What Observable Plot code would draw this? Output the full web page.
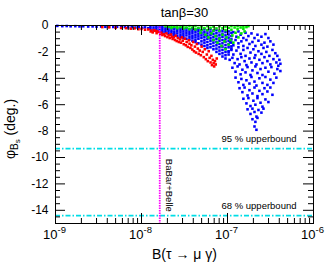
<!DOCTYPE html>
<html><head><meta charset="utf-8">
<script src="https://cdn.jsdelivr.net/npm/d3@7"></script>
<script src="https://cdn.jsdelivr.net/npm/@observablehq/plot@0.6"></script>
<style>body{margin:0;background:#fff} svg{display:block}</style>
</head><body><div id="chart"></div>
<script>
const title = "tanβ=30";
const xLabel = "B(τ → μ γ)";
const xMajor = [1e-9, 1e-8, 1e-7, 1e-6];
const xExp = ["-9", "-8", "-7", "-6"];
const yMajor = [0, -2, -4, -6, -8, -10, -12, -14];
const bound95 = -9.33, bound68 = -14.4;
const bound95Label = "95 % upperbound", bound68Label = "68 % upperbound";
const babarBelle = 1.63e-8;
const babarBelleLabel = "BaBar+Belle";

// blue: thin band along the top at small B
const blueBand = [[1.05e-9,-0.03],[1.2e-9,-0.05],[1.35e-9,-0.04],[1.5e-9,-0.06],[1.7e-9,-0.05],[1.9e-9,-0.07],[2.1e-9,-0.06],[2.4e-9,-0.08],[2.7e-9,-0.07],[3e-9,-0.09],[3.4e-9,-0.08],[3.8e-9,-0.1],[4.2e-9,-0.09],[4.7e-9,-0.11],[5.2e-9,-0.1],[5.8e-9,-0.12],[6.4e-9,-0.11],[7e-9,-0.14],[7.7e-9,-0.12],[8.5e-9,-0.15],[9.3e-9,-0.13],[1.02e-8,-0.17],[1.1e-8,-0.14],[1.2e-8,-0.2]];
// blue: dense region, columns of [B, phi values]
const blueCols = [
 [1.27e-8,[-0.1,-0.25]],[1.38e-8,[-0.15,-0.32]],[1.49e-8,[-0.08,-0.22,-0.38]],[1.62e-8,[-0.12,-0.3,-0.45]],
 [1.75e-8,[-0.1,-0.25,-0.42,-0.55]],[1.9e-8,[-0.2,-0.35,-0.5]],[2.06e-8,[-0.12,-0.3,-0.45,-0.62]],
 [2.23e-8,[-0.22,-0.4,-0.55,-0.7]],[2.41e-8,[-0.15,-0.3,-0.5,-0.65,-0.78]],[2.61e-8,[-0.25,-0.42,-0.6,-0.8]],
 [2.84e-8,[-0.18,-0.35,-0.52,-0.7,-0.88]],[3.07e-8,[-0.28,-0.45,-0.62,-0.8,-0.95]],[3.33e-8,[-0.2,-0.38,-0.55,-0.75,-1.0]],
 [3.61e-8,[-0.3,-0.48,-0.66,-0.85,-1.05]],[3.91e-8,[-0.22,-0.4,-0.58,-0.78,-0.95,-1.15]],[4.24e-8,[-0.32,-0.5,-0.7,-0.9,-1.1,-1.25]],
 [4.59e-8,[-0.25,-0.42,-0.62,-0.82,-1.0,-1.35]],[4.98e-8,[-0.35,-0.55,-0.75,-0.95,-1.2,-1.45]],
 [5.39e-8,[-0.28,-0.48,-0.68,-0.88,-1.1,-1.3,-1.55]],[5.84e-8,[-0.38,-0.6,-0.8,-1.0,-1.25,-1.5,-1.7]],
 [6.34e-8,[-0.3,-0.52,-0.72,-0.95,-1.15,-1.4,-1.65]],[6.86e-8,[-0.42,-0.65,-0.88,-1.1,-1.3,-1.55,-1.8]],
 [7.44e-8,[-0.35,-0.58,-0.8,-1.02,-1.25,-1.5,-1.75,-2.0]],[8.06e-8,[-0.45,-0.7,-0.92,-1.15,-1.4,-1.65,-1.9,-2.15]],
 [8.74e-8,[-0.4,-0.62,-0.85,-1.1,-1.35,-1.6,-1.85,-2.1,-2.35]],[9.48e-8,[-0.5,-0.75,-1.0,-1.22,-1.48,-1.72,-2.0,-2.25,-2.5]],
 [1.03e-7,[-0.45,-0.68,-0.92,-1.15,-1.4,-1.65,-1.95,-2.2]],[1.11e-7,[-0.55,-0.8,-1.05,-1.3,-1.58,-1.85]]
];
// blue: scattered cloud at large B
const blueCloud = [
 [1.17e-7,-0.5],[1.27e-7,-0.85],[1.34e-7,-0.45],[1.42e-7,-0.7],[1.53e-7,-0.95],[1.62e-7,-0.55],[1.75e-7,-0.8],[1.9e-7,-0.6],[2.06e-7,-0.95],[2.23e-7,-0.7],[2.48e-7,-0.85],[2.76e-7,-0.65],[2.99e-7,-0.95],
 [1.08e-7,-1.25],[1.17e-7,-1.5],[1.24e-7,-1.1],[1.34e-7,-1.35],[1.45e-7,-1.2],[1.53e-7,-1.55],[1.66e-7,-1.1],[1.8e-7,-1.4],[1.95e-7,-1.25],[2.11e-7,-1.55],[2.29e-7,-1.15],[2.48e-7,-1.45],[2.69e-7,-1.3],[2.91e-7,-1.6],[3.15e-7,-1.2],[3.42e-7,-1.45],
 [1.03e-7,-2.0],[1.11e-7,-1.75],[1.17e-7,-2.2],[1.27e-7,-1.9],[1.34e-7,-1.65],[1.42e-7,-2.15],[1.53e-7,-1.85],[1.62e-7,-2.3],[1.71e-7,-1.7],[1.85e-7,-2.05],[2.0e-7,-1.8],[2.11e-7,-2.25],[2.29e-7,-1.95],[2.48e-7,-2.15],[2.62e-7,-1.7],[2.83e-7,-2.0],[3.07e-7,-2.3],[3.33e-7,-1.85],[3.6e-7,-2.1],[3.8e-7,-2.3],
 [1.06e-7,-2.6],[1.14e-7,-2.45],[1.21e-7,-2.85],[1.31e-7,-2.55],[1.38e-7,-2.95],[1.45e-7,-2.4],[1.58e-7,-2.7],[1.66e-7,-3.0],[1.8e-7,-2.5],[1.9e-7,-2.8],[2.06e-7,-2.45],[2.17e-7,-2.95],[2.35e-7,-2.6],[2.55e-7,-2.85],[2.69e-7,-2.4],[2.91e-7,-2.7],[3.15e-7,-2.95],[3.42e-7,-2.55],[3.7e-7,-2.8],[4.01e-7,-2.6],[4.12e-7,-2.9],
 [1.14e-7,-3.2],[1.24e-7,-3.5],[1.31e-7,-3.1],[1.42e-7,-3.7],[1.49e-7,-3.35],[1.62e-7,-3.55],[1.71e-7,-3.15],[1.85e-7,-3.75],[1.95e-7,-3.4],[2.11e-7,-3.1],[2.23e-7,-3.6],[2.42e-7,-3.3],[2.55e-7,-3.75],[2.76e-7,-3.2],[2.99e-7,-3.5],[3.24e-7,-3.15],[3.51e-7,-3.65],[3.8e-7,-3.3],[4.12e-7,-3.45],[3.9e-7,-3.05],
 [1.24e-7,-3.95],[1.34e-7,-4.3],[1.45e-7,-4.05],[1.53e-7,-4.5],[1.66e-7,-4.15],[1.8e-7,-4.4],[1.9e-7,-3.9],[2.06e-7,-4.25],[2.17e-7,-4.55],[2.35e-7,-4.0],[2.55e-7,-4.35],[2.76e-7,-3.9],[2.91e-7,-4.5],[3.15e-7,-4.1],[3.42e-7,-4.35],[3.7e-7,-3.95],
 [1.38e-7,-4.75],[1.49e-7,-5.05],[1.58e-7,-4.7],[1.71e-7,-5.3],[1.8e-7,-4.9],[1.95e-7,-5.15],[2.06e-7,-4.7],[2.23e-7,-5.35],[2.35e-7,-4.95],[2.55e-7,-5.2],[2.69e-7,-4.75],[2.91e-7,-5.0],[3.15e-7,-4.7],[3.33e-7,-5.25],
 [1.53e-7,-5.55],[1.66e-7,-5.9],[1.75e-7,-5.5],[1.85e-7,-6.1],[2.0e-7,-5.7],[2.11e-7,-6.0],[2.23e-7,-5.5],[2.42e-7,-5.85],[2.55e-7,-6.15],[2.76e-7,-5.6],[2.99e-7,-5.8],
 [1.71e-7,-6.35],[1.85e-7,-6.7],[1.95e-7,-6.3],[2.06e-7,-6.55],[2.17e-7,-6.9],[2.29e-7,-6.4],[2.48e-7,-6.6],[2.62e-7,-6.3],
 [1.95e-7,-7.1],[2.11e-7,-7.3],[2.23e-7,-7.0],[2.06e-7,-7.65],[2.17e-7,-7.9]
];
const red = [
 [3.5e-9,-0.12],[4.2e-9,-0.14],[5e-9,-0.17],[5.8e-9,-0.19],[6.6e-9,-0.2],[7.5e-9,-0.24],[8.3e-9,-0.22],[9.2e-9,-0.28],[1e-8,-0.26],[1.1e-8,-0.32],[1.2e-8,-0.3],[1.3e-8,-0.38],[1.4e-8,-0.35],[1.5e-8,-0.42],
 [1.28e-8,-0.45],[1.35e-8,-0.52],[1.42e-8,-0.4],[1.5e-8,-0.58],[1.58e-8,-0.48],[1.65e-8,-0.62],
 [1.7e-8,-0.55],[1.75e-8,-0.72],[1.82e-8,-0.66],[1.88e-8,-0.8],[1.95e-8,-0.6],[2.0e-8,-0.88],[2.07e-8,-0.75],[2.13e-8,-0.95],
 [2.2e-8,-0.68],[2.25e-8,-0.85],[2.3e-8,-1.02],[2.38e-8,-0.9],[2.45e-8,-1.1],[2.5e-8,-0.78],[2.57e-8,-1.18],[2.65e-8,-0.95],[2.72e-8,-1.25],[2.8e-8,-1.05],
 [2.88e-8,-1.3],[2.95e-8,-0.9],[3.02e-8,-1.15],[3.1e-8,-1.42],[3.2e-8,-1.0],[3.28e-8,-1.5],[3.35e-8,-1.25],[3.45e-8,-1.62],[3.55e-8,-1.12],[3.62e-8,-1.38],[3.7e-8,-1.7],
 [3.8e-8,-1.5],[3.9e-8,-1.82],[3.98e-8,-1.25],[4.08e-8,-1.95],[4.18e-8,-1.6],[4.3e-8,-2.05],[4.4e-8,-1.4],[4.52e-8,-1.75],[4.62e-8,-2.15],[4.75e-8,-1.9],
 [4.9e-8,-2.25],[5.0e-8,-1.6],[5.15e-8,-2.0],[5.3e-8,-2.4],[5.45e-8,-1.8],[5.6e-8,-2.55],[5.75e-8,-2.2],[5.9e-8,-2.7],[6.05e-8,-1.95],[6.2e-8,-2.45],
 [6.35e-8,-2.8],[6.5e-8,-2.3],[6.6e-8,-3.0],[6.75e-8,-2.6],[6.9e-8,-2.85],[7.0e-8,-3.1],[7.15e-8,-2.7],[7.3e-8,-2.95],[7.5e-8,-2.5]
];
const green = [
 [1.9e-8,-0.05],[2.06e-8,-0.1],[2.23e-8,-0.05],[2.23e-8,-0.18],[2.41e-8,-0.1],[2.61e-8,-0.05],[2.61e-8,-0.2],[2.84e-8,-0.12],[3.07e-8,-0.05],[3.07e-8,-0.22],[3.33e-8,-0.15],[3.61e-8,-0.05],[3.61e-8,-0.28],[3.91e-8,-0.15],[4.24e-8,-0.05],[4.24e-8,-0.3],[4.59e-8,-0.18],[4.98e-8,-0.08],[4.98e-8,-0.32],[5.39e-8,-0.2],[5.84e-8,-0.05],[5.84e-8,-0.35],[6.34e-8,-0.18],[6.86e-8,-0.08],[6.86e-8,-0.38],[7.44e-8,-0.22],[8.06e-8,-0.05],[8.06e-8,-0.4],[8.74e-8,-0.2],[9.48e-8,-0.08],[9.48e-8,-0.35],[1.03e-7,-0.18],[1.11e-7,-0.05],[1.11e-7,-0.32],[1.21e-7,-0.15],[1.31e-7,-0.05],[1.31e-7,-0.28],[1.42e-7,-0.15],[1.53e-7,-0.08],[1.53e-7,-0.25],[1.66e-7,-0.12],[1.75e-7,-0.05],
 [4.85e-8,-0.55],[5.54e-8,-0.7],[6.0e-8,-0.9],[6.51e-8,-0.6],[6.86e-8,-1.1],[7.25e-8,-0.8],[7.64e-8,-1.3],[8.06e-8,-1.0],[8.51e-8,-1.55],[8.74e-8,-0.7],[9.22e-8,-1.2],[9.48e-8,-1.8],[9.74e-8,-0.9],[1.03e-7,-1.45],[1.08e-7,-1.1],[1.14e-7,-0.75],[1.17e-7,-1.3],[1.24e-7,-0.55],[1.34e-7,-0.9],[1.45e-7,-0.6],[1.58e-7,-0.45]
];

const blue = [...blueBand, ...blueCols.flatMap(([b, ps]) => ps.map(p => [b, p])), ...blueCloud];

const W = 327, H = 265, mL = 55, mR = 14, mT = 25, mB = 42;
const fW = W - mL - mR, fH = H - mT - mB;
const xMinor = [1e-9, 1e-8, 1e-7].flatMap(p => [2,3,4,5,6,7,8,9].map(m => m * p));
const yMinor = d3.range(-15, 0.01, 0.5).filter(v => Math.abs(v % 2) > 1e-9);
const font = "'Liberation Sans', Arial, Helvetica, sans-serif";
const pt = {x: d => d[0], y: d => d[1], symbol: "square", r: 1.45};

const svg = Plot.plot({
  width: W, height: H,
  marginLeft: mL, marginRight: mR, marginTop: mT, marginBottom: mB,
  style: {fontFamily: font, background: "white", color: "black"},
  x: {type: "log", domain: [1e-9, 1e-6], axis: null},
  y: {domain: [-15, 0], axis: null},
  marks: [
    Plot.dot(blue, {...pt, fill: "#0000ff"}),
    Plot.dot(red, {...pt, fill: "#ff0000"}),
    Plot.dot(green, {...pt, fill: "#00e600"}),
    Plot.ruleY([bound95, bound68], {y: d => d, stroke: "#00dde6", strokeWidth: 1.6, strokeDasharray: "5,2,1.5,2"}),
    Plot.ruleX([babarBelle], {x: d => d, stroke: "#ff00ff", strokeWidth: 1.8, strokeDasharray: "1.5,1"}),
    Plot.frame({stroke: "black", strokeWidth: 1}),
    // inward ticks on all four sides
    Plot.ruleX(xMajor, {x: d => d, insetTop: fH - 10, stroke: "black"}),
    Plot.ruleX(xMajor, {x: d => d, insetBottom: fH - 10, stroke: "black"}),
    Plot.ruleX(xMinor, {x: d => d, insetTop: fH - 5, stroke: "black"}),
    Plot.ruleX(xMinor, {x: d => d, insetBottom: fH - 5, stroke: "black"}),
    Plot.ruleY(yMajor, {y: d => d, insetRight: fW - 10, stroke: "black"}),
    Plot.ruleY(yMajor, {y: d => d, insetLeft: fW - 10, stroke: "black"}),
    Plot.ruleY(yMinor, {y: d => d, insetRight: fW - 5, stroke: "black"}),
    Plot.ruleY(yMinor, {y: d => d, insetLeft: fW - 5, stroke: "black"}),
    // tick labels
    Plot.text(yMajor, {y: d => d, text: d => String(d), frameAnchor: "left", textAnchor: "end", dx: -7, fontSize: 12}),
    Plot.text(xMajor, {x: d => d, text: () => "10", frameAnchor: "bottom", textAnchor: "end", dx: 2, dy: 15, fontSize: 13}),
    Plot.text(xMajor.map((v, i) => ({v, e: xExp[i]})), {x: "v", text: "e", frameAnchor: "bottom", textAnchor: "start", dx: 2, dy: 9, fontSize: 9.5}),
    // annotations
    Plot.text([{y: bound95, t: bound95Label}, {y: bound68, t: bound68Label}], {y: "y", text: "t", frameAnchor: "right", textAnchor: "end", dx: -17, dy: -10, fontSize: 9.5}),
    Plot.text([{x: babarBelle, t: babarBelleLabel}], {x: "x", y: () => -10.1, text: "t", rotate: 90, textAnchor: "start", dx: 9, fontSize: 9.5}),
    Plot.text([title], {text: d => d, frameAnchor: "top", dy: -18, fontSize: 13}),
    Plot.text([xLabel], {text: d => d, frameAnchor: "bottom", dy: 35, fontSize: 14})
  ]
});

const yl = d3.select(svg).append("text")
  .attr("transform", "translate(15,129) rotate(-90)")
  .attr("text-anchor", "middle")
  .attr("font-size", 14)
  .attr("font-family", font)
  .attr("fill", "black");
yl.append("tspan").text("φ");
yl.append("tspan").attr("font-size", 10).attr("dy", 3).text("B");
yl.append("tspan").attr("font-size", 8).attr("dy", 2).text("s");
yl.append("tspan").attr("dy", -5).text(" (deg.)");

document.getElementById("chart").appendChild(svg);
</script>
</body></html>
